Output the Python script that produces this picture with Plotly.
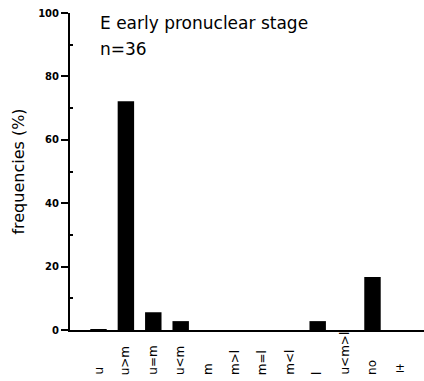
import plotly.graph_objects as go

categories = ["u", "u>m", "u=m", "u<m", "m", "m>l", "m=l", "m<l", "l", "u<m>l", "no", "±"]
freq = [0.3, 72.2, 5.6, 2.8, 0, 0, 0, 0, 2.8, 0, 16.7, 0]
yticks = [0, 20, 40, 60, 80, 100]

xs = list(range(len(categories)))
font = "DejaVu Sans"

fig = go.Figure()
fig.add_trace(go.Bar(x=xs, y=freq, width=0.6, marker=dict(color="black", line=dict(width=0)), showlegend=False))

for x, lab in zip(xs, categories):
    fig.add_annotation(x=x, xref="x", y=-0.148, yref="paper", text=lab, textangle=-90 if lab != "±" else 0,
                       showarrow=False, yanchor="bottom", xanchor="center",
                       font=dict(family=font, size=12, color="black"))

fig.add_annotation(x=0.079, xref="paper", y=97.0, yref="y", text="E early pronuclear stage", showarrow=False,
                   xanchor="left", yanchor="middle", font=dict(family=font, size=17, color="black"))
fig.add_annotation(x=0.079, xref="paper", y=88.8, yref="y", text="n=36", showarrow=False,
                   xanchor="left", yanchor="middle", font=dict(family=font, size=17, color="black"))

fig.update_layout(
    width=424, height=381, margin=dict(l=70, r=0, t=13, b=51),
    plot_bgcolor="white", paper_bgcolor="white", bargap=0.4,
    xaxis=dict(range=[-1.04, 11.88], showticklabels=False, ticks="", showline=True, linecolor="black",
               linewidth=2, showgrid=False, zeroline=False),
    yaxis=dict(range=[0, 100], tickvals=yticks, ticks="outside", ticklen=7, tickwidth=2, tickcolor="black",
               showline=True, linecolor="black", linewidth=2, showgrid=False, zeroline=False,
               tickfont=dict(family=font, size=10, color="black", weight="bold"),
               minor=dict(tickvals=[10, 30, 50, 70, 90], ticks="inside", ticklen=3, tickcolor="black", tickwidth=2),
               title=dict(text="frequencies (%)", font=dict(family=font, size=16, color="black"), standoff=10)),
)
fig.write_html("out.html")
